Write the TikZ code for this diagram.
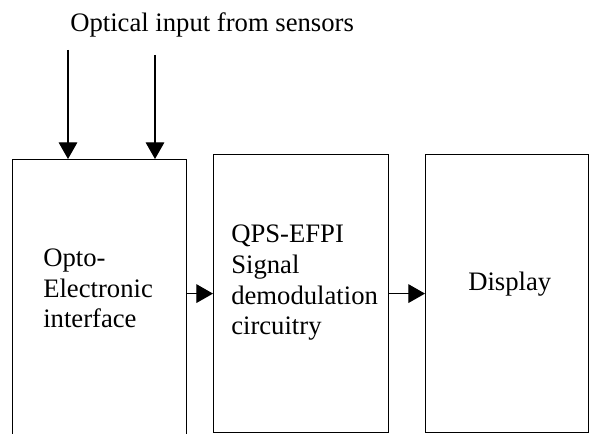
\documentclass[tikz,border=0pt]{standalone}
\usepackage{fontspec}
\setmainfont{Liberation Serif}
\usetikzlibrary{positioning,arrows.meta}

\begin{document}
\begin{tikzpicture}[x=0.75pt, y=-0.75pt, font=\fontsize{20}{23.2}\selectfont,
  blk/.style={draw, line width=0.9pt, inner sep=0pt, anchor=north west},
  lbl/.style={align=left, inner sep=0pt, anchor=base west},
  arr/.style={-{Triangle[length=12.5pt, width=14pt]}, line width=0.9pt}]
\useasboundingbox (0,0) rectangle (589,434);
\clip (0,0) rectangle (589,434);
% blocks
\node[blk, minimum width=130.5pt, minimum height=211.5pt] (oe) at (12,159) {};
\node[blk, minimum width=131.25pt, minimum height=208.5pt] (demod) at (213,154) {};
\node[blk, minimum width=122.25pt, minimum height=208.5pt] (disp) at (425,154) {};
% texts (base = last line)
\node[lbl] (intitle) at (70,32) {Optical input from sensors};
\node[lbl] (oetxt) at (43,328) {Opto-\\Electronic\\interface};
\node[lbl] (demodtxt) at (231,335) {QPS-EFPI\\Signal\\demodulation\\circuitry};
\node[lbl] (disptxt) at (468,291) {Display};
% optical inputs
\coordinate (inA) at (68,50);
\coordinate (inB) at (155,55);
\draw[arr] (inA) -- (inA |- oe.north);
\draw[arr] (inB) -- (inB |- oe.north);
% signal path
\draw[arr] (demod.west -| oe.east) -- (demod.west);
\draw[arr] (demod.east) -- (disp.west);
\end{tikzpicture}
\end{document}
